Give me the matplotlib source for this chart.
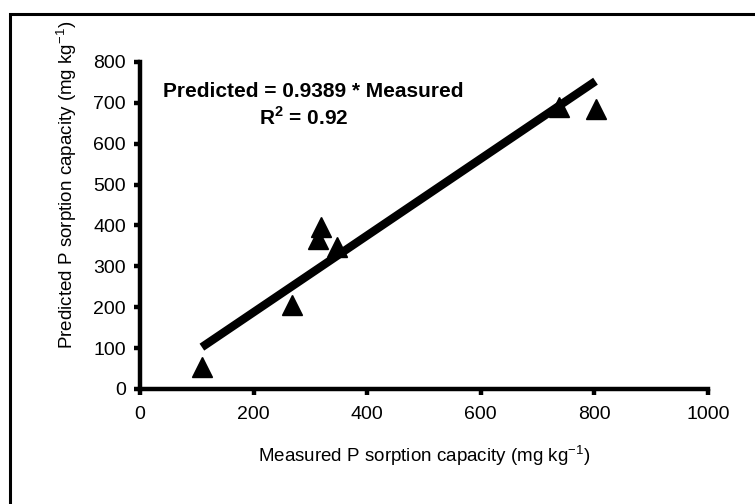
import matplotlib
matplotlib.use("Agg")
import matplotlib.pyplot as plt
from matplotlib.patches import Rectangle

plt.rcParams["font.family"] = ["Liberation Sans", "DejaVu Sans"]

# measured vs predicted P sorption capacity (mg/kg)
measured = [109, 268, 314, 318, 346, 737, 802]
predicted = [55, 205, 367, 397, 348, 690, 684]
slope = 0.9389
r2 = 0.92

fig = plt.figure(figsize=(7.55, 5.04), dpi=100)
ax = fig.add_axes([0.1854, 0.2282, 0.7523, 0.6488])

# outer frame, right and bottom edges fall outside the picture
fig.patches.append(Rectangle((0.0132, -0.1), 1.1, 1.072, transform=fig.transFigure,
                             fill=False, edgecolor="black", linewidth=2.2))

x_fit = [min(measured), max(measured)]
y_fit = [slope * v for v in x_fit]
ax.plot(x_fit, y_fit, color="black", linewidth=6, solid_capstyle="butt", zorder=2)
ax.plot(measured, predicted, linestyle="none", marker="^", markersize=14,
        color="black", zorder=3)

ax.set_xlim(0, 1000)
ax.set_ylim(0, 800)
ax.set_xticks(range(0, 1001, 200))
ax.set_yticks(range(0, 801, 100))

for side in ["top", "right"]:
    ax.spines[side].set_visible(False)
for side in ["left", "bottom"]:
    ax.spines[side].set_linewidth(3.2)
ax.tick_params(axis="both", direction="out", length=4, width=3.2, labelsize=14)
ax.tick_params(axis="x", pad=8)
ax.tick_params(axis="y", pad=6)

ax.set_xlabel("Measured P sorption capacity (mg kg$^{\\mathregular{-1}}$)", fontsize=13.5)
ax.set_ylabel("Predicted P sorption capacity (mg kg$^{\\mathregular{-1}}$)", fontsize=13.5)
ax.xaxis.set_label_coords(0.5, -0.205)
ax.yaxis.set_label_coords(-0.1285, 0.624)
ax.xaxis.label.set_va("center")
ax.yaxis.label.set_va("center")

ax.text(305, 728, f"Predicted = {slope} * Measured", fontsize=15, fontweight="bold",
        ha="center", va="center")
ax.text(289, 664, f"R$^{{\\mathregular{{2}}}}$ = {r2}", fontsize=15, fontweight="bold",
        ha="center", va="center")

fig.savefig("out.png", dpi=100)
